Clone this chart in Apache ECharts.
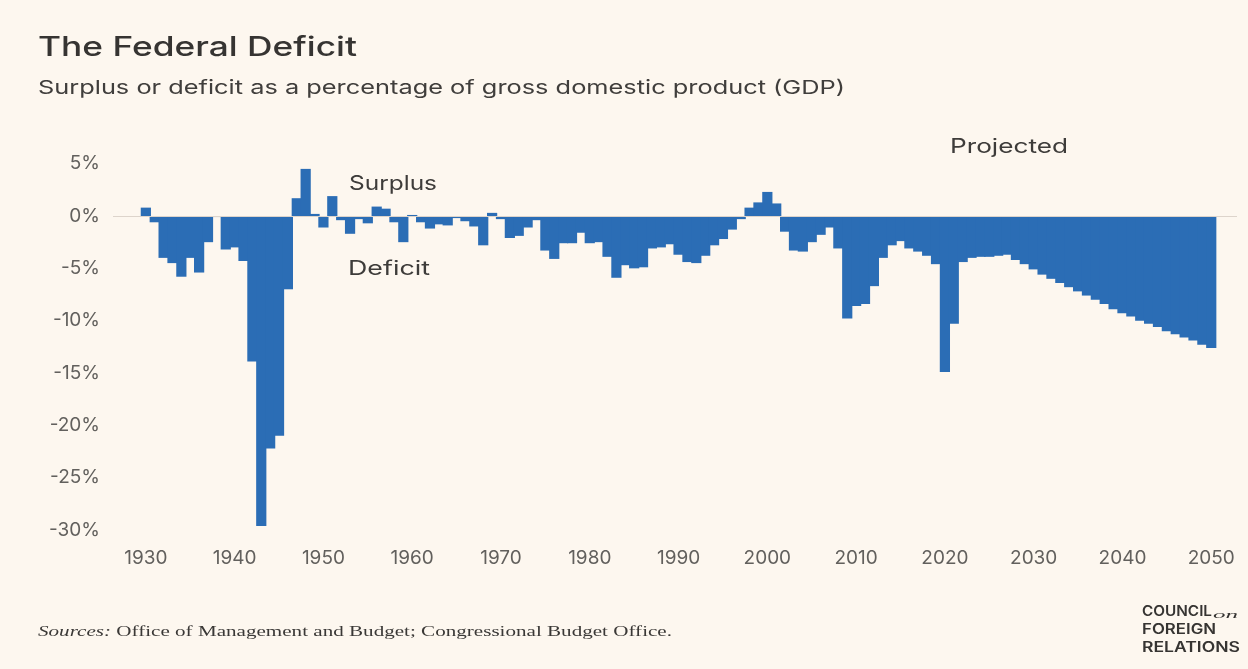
<!DOCTYPE html>
<html>
<head>
<meta charset="utf-8">
<script src="https://cdn.jsdelivr.net/npm/echarts@6/dist/echarts.min.js"></script>
<style>
  html, body { margin: 0; padding: 0; background: #fdf7ef; }
  #chart { width: 1248px; height: 669px; }
</style>
</head>
<body>
<div id="chart"></div>
<script>
// ---------- data ----------
const firstYear = 1930;
// Actual surplus (+) / deficit (-) as % of GDP, 1930-2021
const historicalValues = [
  0.8, -0.6, -4.0, -4.5, -5.8, -4.0, -5.4, -2.5, -0.1, -3.2,      // 1930s
  -3.0, -4.3, -13.9, -29.6, -22.2, -21.0, -7.0, 1.7, 4.5, 0.2,    // 1940s
  -1.1, 1.9, -0.4, -1.7, -0.3, -0.7, 0.9, 0.7, -0.6, -2.5,        // 1950s
  0.1, -0.6, -1.2, -0.8, -0.9, -0.2, -0.5, -1.0, -2.8, 0.3,       // 1960s
  -0.3, -2.1, -1.9, -1.1, -0.4, -3.3, -4.1, -2.6, -2.6, -1.6,     // 1970s
  -2.6, -2.5, -3.9, -5.9, -4.7, -5.0, -4.9, -3.1, -3.0, -2.7,     // 1980s
  -3.7, -4.4, -4.5, -3.8, -2.8, -2.2, -1.3, -0.3, 0.8, 1.3,       // 1990s
  2.3, 1.2, -1.5, -3.3, -3.4, -2.5, -1.8, -1.1, -3.1, -9.8,       // 2000s
  -8.6, -8.4, -6.7, -4.0, -2.8, -2.4, -3.1, -3.4, -3.8, -4.6,     // 2010s
  -14.9, -10.3                                                    // 2020-2021
];
// Projected, 2022-2050
const projectedValues = [
  -4.4, -4.0, -3.9, -3.9, -3.8, -3.7, -4.2, -4.6,                 // 2022-2029
  -5.1, -5.6, -6.0, -6.4, -6.8, -7.2, -7.6, -8.0, -8.4, -8.9,     // 2030s
  -9.3, -9.6, -10.0, -10.3, -10.6, -11.0, -11.3, -11.6, -11.9, -12.3, // 2040s
  -12.6                                                           // 2050
];
const xTickLabels = [1930, 1940, 1950, 1960, 1970, 1980, 1990, 2000, 2010, 2020, 2030, 2040, 2050];
const yTickValues = [5, 0, -5, -10, -15, -20, -25, -30];

const titleText = 'The Federal Deficit';
const subtitleText = 'Surplus or deficit as a percentage of gross domestic product (GDP)';
const sourceLabel = 'Sources:';
const sourceText = ' Office of Management and Budget; Congressional Budget Office.';

// ---------- build ----------
const allValues = historicalValues.concat(projectedValues);
const barData = allValues.map((v, i) => [firstYear + i, v]);

const measureCtx = document.createElement('canvas').getContext('2d');
function measure(text, font) { measureCtx.font = font; return measureCtx.measureText(text).width; }
function fitText(text, left, right, cy, font, color) {
  const w = measure(text, font);
  return {
    type: 'text', x: left, y: cy, scaleX: (right - left) / w, silent: true,
    style: { text: text, font: font, fill: color, align: 'left', verticalAlign: 'middle' }
  };
}

const FONT = 'Inter, "Noto Sans", sans-serif';
const textGrey = '#62605d';
const dark = '#363432';
const barColor = '#2b6db5';

const srcFontI = 'italic 15px "Liberation Serif", serif';
const srcFont = '15px "Liberation Serif", serif';
const srcW = measure(sourceLabel, srcFontI) + measure(sourceText, srcFont);
const srcScale = (672 - 38) / srcW;

const graphics = [
  fitText(titleText, 38, 357, 48, '500 27px ' + FONT, dark),
  fitText(subtitleText, 38, 845, 88, '19px ' + FONT, '#403e3c'),
  fitText('Projected', 950, 1068, 147, '20px ' + FONT, '#3e3c3a'),
  fitText('Surplus', 349, 437, 184, '20px ' + FONT, '#3e3c3a'),
  fitText('Deficit', 348, 430, 269, '20px ' + FONT, '#3e3c3a'),
  {
    type: 'text', x: 38, y: 632, scaleX: srcScale, silent: true,
    style: {
      text: '{i|' + sourceLabel + '}{n|' + sourceText + '}',
      verticalAlign: 'middle', align: 'left',
      rich: {
        i: { font: srcFontI, fill: '#3a3836' },
        n: { font: srcFont, fill: '#3a3836' }
      }
    }
  },
  fitText('COUNCIL', 1142, 1212, 612, '600 14px ' + FONT, dark),
  fitText('on', 1213, 1238, 615, 'italic 11px "Liberation Serif", serif', dark),
  fitText('FOREIGN', 1142, 1216, 630, '600 14px ' + FONT, dark),
  fitText('RELATIONS', 1142, 1240, 648, '600 14px ' + FONT, dark)
];

const chart = echarts.init(document.getElementById('chart'), null, { renderer: 'canvas' });
chart.setOption({
  backgroundColor: '#fdf7ef',
  animation: false,
  grid: { left: 113, right: 11, top: 163.65, bottom: 138.9, containLabel: false },
  xAxis: {
    type: 'value', min: 1926.3, max: 2052.9,
    splitLine: { show: false }, axisLine: { show: false }, axisTick: { show: false },
    axisLabel: {
      customValues: xTickLabels, color: textGrey, fontFamily: FONT, fontSize: 19,
      margin: 18, lineHeight: 20, formatter: v => String(v)
    }
  },
  yAxis: {
    type: 'value', min: -30, max: 5, interval: 5,
    splitLine: { show: false }, axisLine: { show: false }, axisTick: { show: false },
    axisLabel: {
      customValues: yTickValues, color: textGrey, fontFamily: FONT, fontSize: 19, margin: 13,
      formatter: v => (v < 0 ? '-' : '') + Math.abs(v) + '%'
    }
  },
  series: [{
    type: 'bar', data: barData, barWidth: '115%',
    itemStyle: { color: barColor },
    markLine: {
      silent: true, symbol: ['none', 'none'], label: { show: false },
      lineStyle: { color: '#ddd4cb', width: 1.2, type: 'solid' },
      data: [{ yAxis: 0 }]
    }
  }],
  graphic: graphics
});
</script>
</body>
</html>
